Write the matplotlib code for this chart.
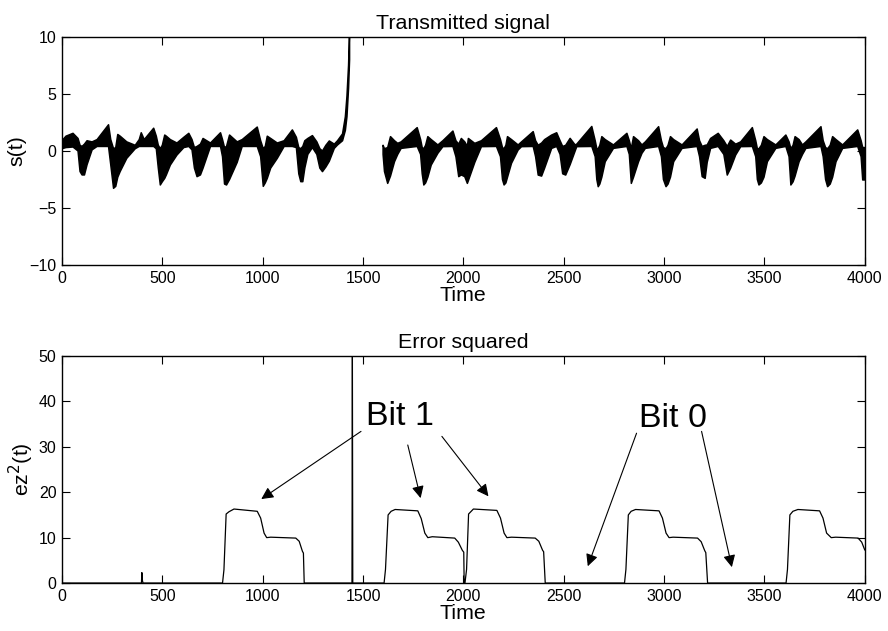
import numpy as np
import matplotlib
matplotlib.use("Agg")
import matplotlib.pyplot as plt

plt.rcParams['font.family'] = ['Liberation Sans', 'DejaVu Sans']

nan = np.nan

# transmitted signal: upper / lower envelope of the fast oscillation
sig_t = [0, 20, 55, 80, 90, 100, 112, 125, 150, 175, 232, 243, 257, 268, 278, 290, 323, 365,
         385, 395, 410, 457, 470, 480, 490, 500, 512, 520, 540, 573, 607, 632, 648, 660, 673,
         690, 703, 740, 790, 800, 810, 820, 835, 873, 898, 973, 990, 1003, 1013, 1023, 1040,
         1073, 1107, 1148, 1168, 1180, 1190, 1200, 1210, 1225, 1248, 1270, 1285, 1298, 1315,
         1332, 1357, 1373, 1398, 1412, 1420, 1428, 1433, 1436,
         1600, 1607, 1623, 1637, 1657, 1673, 1690, 1770, 1787, 1795, 1803, 1812, 1823, 1840,
         1873, 1898, 1948, 1963, 1977, 1990, 2007, 2020, 2025, 2057, 2090, 2165, 2185, 2195,
         2203, 2212, 2220, 2240, 2273, 2290, 2348, 2360, 2373, 2390, 2405, 2440, 2465, 2482,
         2495, 2510, 2532, 2557, 2565, 2640, 2657, 2665, 2672, 2680, 2690, 2707, 2748, 2815,
         2827, 2837, 2848, 2873, 2890, 2907, 2973, 2987, 2997, 3010, 3020, 3032, 3048, 3090,
         3165, 3177, 3190, 3205, 3215, 3232, 3270, 3298, 3315, 3332, 3357, 3382, 3440, 3457,
         3465, 3473, 3485, 3498, 3515, 3557, 3607, 3623, 3632, 3643, 3653, 3673, 3690, 3707,
         3782, 3793, 3805, 3815, 3828, 3840, 3857, 3890, 3965, 3982, 3990, 4000]
sig_hi = [0.9, 1.3, 1.55, 1.1, 0.5, 0.4, 0.6, 0.9, 0.8, 1.0, 2.3, 1.0, 0.2, 0.3, 1.45, 1.3, 0.8, 0.5,
          1.0, 1.6, 1.0, 2.0, 1.3, 0.5, 0.2, 0.5, 1.4, 1.3, 1.0, 0.7, 1.2, 1.55, 1.0, 0.3, 0.4,
          0.6, 1.1, 0.7, 1.6, 1.0, 0.3, 0.4, 1.4, 0.8, 1.0, 2.1, 0.9, 0.2, 0.4, 1.3, 1.1,
          0.7, 0.9, 1.85, 1.2, 0.3, 0.2, 0.4, 0.9, 1.1, 1.35, 0.8, 0.2, 0.0, 0.5,
          0.88, 0.6, 0.9, 1.5, 3.0, 4.8, 7.5, 10.5, nan,
          0.5, 0.2, 0.3, 1.26, 0.9, 0.67, 0.8, 2.05, 1.0, 0.3, 0.2, 0.5, 1.26, 1.0,
          0.53, 0.9, 1.75, 0.9, 0.6, 1.1, 0.8, 0.4, 1.1, 0.67, 0.9, 2.05, 1.0, 0.3,
          0.2, 0.5, 1.26, 1.0, 0.53, 0.8, 1.7, 0.9, 0.5, 0.7, 1.0, 1.4, 1.6, 0.9,
          0.4, 0.5, 1.11, 0.53, 0.6, 2.15, 0.9, 0.2, 0.2, 0.5, 1.26, 1.0, 0.53, 1.55,
          0.9, 0.2, 1.26, 0.9, 0.53, 0.8, 2.13, 0.9, 0.3, 0.2, 0.5, 1.26, 1.0, 0.53,
          1.93, 0.9, 0.4, 0.5, 0.53, 1.1, 1.55, 0.9, 0.4, 0.96, 0.6, 0.8, 2.05, 0.9,
          0.2, 0.2, 0.5, 1.26, 1.0, 0.53, 1.4, 0.8, 0.2, 0.5, 1.26, 1.0, 0.53, 0.8,
          2.13, 0.9, 0.3, 0.2, 0.5, 1.26, 1.0, 0.53, 1.85, 0.9, 0.3, 0.3]
sig_lo = [0.2, 0.3, 0.35, 0.0, -1.8, -2.1, -2.1, -1.2, 0.1, 0.4, 0.4, -1.2, -3.27, -3.1, -2.3, -1.8, -0.64, 0.2,
          0.4, 0.4, 0.4, 0.4, 0.2, -1.5, -2.98, -2.7, -2.4, -2.1, -1.23, -0.35, 0.3, 0.4, 0.1, -1.5, -2.25,
          -2.1, -1.5, 0.4, 0.4, -0.5, -2.9, -2.98, -2.5, -1.0, 0.4, 0.4, -0.5, -3.1, -2.8, -2.4, -1.5,
          -0.64, 0.4, 0.4, 0.3, -2.0, -2.69, -2.69, -1.5, -0.3, 0.3, -0.3, -1.5, -1.81, -1.4,
          -0.9, 0.23, 0.53, 0.9, 1.8, 3.0, 5.5, 8.0, nan,
          -0.3, -1.8, -2.84, -2.2, -0.94, -0.3, 0.23, 0.4, -0.3, -2.0, -2.98, -2.8, -2.3, -1.23,
          -0.2, 0.38, 0.4, -0.5, -2.25, -2.1, -2.25, -2.84, -2.6, -1.0, 0.38, 0.4, -0.5, -2.5,
          -2.98, -2.8, -2.3, -1.08, 0.09, 0.38, 0.4, -0.5, -2.11, -2.2, -1.5, 0.23, 0.4, -0.3,
          -2.0, -2.11, -1.2, 0.0, 0.38, 0.4, -0.5, -2.5, -3.13, -2.9, -2.3, -0.94, 0.23, 0.4,
          -0.3, -2.84, -2.3, -0.94, -0.2, 0.23, 0.4, -0.5, -2.5, -3.13, -2.9, -2.3, -0.94, 0.23,
          0.4, -0.5, -2.25, -2.4, -1.0, 0.23, 0.4, -0.3, -2.11, -1.5, -0.35, 0.38, 0.4, -0.5,
          -2.5, -2.98, -2.8, -2.3, -0.94, 0.23, 0.4, -0.5, -2.98, -2.7, -2.2, -0.94, -0.3, 0.23,
          0.4, -0.5, -2.5, -3.13, -2.9, -2.3, -0.94, 0.23, 0.4, -0.5, -2.54, -2.54]

# squared synchronisation error
err_t = [0, 396, 398, 401, 404, 800, 807, 818, 832, 857, 973, 990, 1007, 1020, 1040, 1165, 1182, 1198,
         1203, 1207, 1445, 1447, 1449, 1605, 1612, 1625, 1640, 1660, 1773, 1790, 1808, 1823, 1845,
         1957, 1975, 1995, 2002, 2004, 2008, 2016, 2026, 2050, 2167, 2185, 2203, 2217, 2240, 2358,
         2376, 2395, 2400, 2408, 2803, 2810, 2822, 2836, 2858, 2975, 2992, 3010, 3025, 3045, 3167,
         3185, 3203, 3208, 3217, 3608, 3615, 3627, 3642, 3667, 3775, 3792, 3810, 3833, 3855, 3967,
         3985, 4000]
err_v = [0, 0, 2.3, 0.5, 0, 0, 2.9, 15.2, 15.7, 16.3, 15.8, 14.3, 11.0, 10.0, 10.1, 9.9, 9.2, 7.0,
         6.6, 0, 0, 50, 0, 0, 3.0, 15.0, 15.8, 16.2, 15.9, 14.2, 11.0, 10.0, 10.2, 9.9, 9.0, 7.2,
         6.8, 0, 0, 3.0, 15.2, 16.3, 16.0, 14.3, 11.0, 10.0, 10.1, 9.9, 9.2, 7.2, 6.9, 0, 0, 3.0,
         15.0, 15.8, 16.2, 15.9, 14.3, 11.0, 10.0, 10.1, 9.9, 9.1, 7.1, 6.7, 0, 0, 3.0, 15.0, 15.8,
         16.2, 15.9, 14.3, 11.0, 10.0, 10.1, 9.9, 9.0, 7.3]

xticks = np.arange(0, 4001, 500)

fig = plt.figure(figsize=(8.88, 6.31), dpi=100)
ax1 = fig.add_axes([0.0698, 0.58, 0.904, 0.3614])
ax2 = fig.add_axes([0.0698, 0.076, 0.904, 0.3598])

# edge line keeps the smeared look of the dense carrier
ax1.fill_between(sig_t, sig_lo, sig_hi, facecolor='k', edgecolor='k', lw=1.1)
ax1.set_xlim(0, 4000)
ax1.set_ylim(-10, 10)
ax1.set_yticks([-10, -5, 0, 5, 10])
ax1.set_title('Transmitted signal', fontsize=15.4, pad=6)
ax1.set_ylabel('s(t)', fontsize=15.4, labelpad=2)
ax1.set_xlabel('Time', fontsize=15.4, labelpad=0)

ax2.plot(err_t, err_v, color='k', lw=0.9)
ax2.set_xlim(0, 4000)
ax2.set_ylim(0, 50)
ax2.set_yticks([0, 10, 20, 30, 40, 50])
ax2.set_title('Error squared', fontsize=15.4, pad=6)
ax2.set_ylabel('ez$^2$(t)', fontsize=15.4, labelpad=2)
ax2.set_xlabel('Time', fontsize=15.4, labelpad=0)

for ax in (ax1, ax2):
    ax.set_xticks(xticks)
    ax.tick_params(direction='in', length=6, width=0.8, top=True, right=True,
                   labelsize=11.5, pad=4)
    for sp in ax.spines.values():
        sp.set_linewidth(1.0)

arrow = dict(arrowstyle='-|>', color='k', lw=0.8, mutation_scale=18, shrinkA=0, shrinkB=0)
ax2.text(1515, 34.8, 'Bit 1', fontsize=24.5, ha='left', va='baseline')
ax2.annotate('', xy=(993, 18.5), xytext=(1490, 33.4), arrowprops=arrow)
ax2.annotate('', xy=(1787, 18.7), xytext=(1723, 30.4), arrowprops=arrow)
ax2.annotate('', xy=(2125, 19.1), xytext=(1893, 32.3), arrowprops=arrow)
ax2.text(2875, 34.4, 'Bit 0', fontsize=24.5, ha='left', va='baseline')
ax2.annotate('', xy=(2620, 3.7), xytext=(2863, 33.0), arrowprops=arrow)
ax2.annotate('', xy=(3338, 3.5), xytext=(3187, 33.4), arrowprops=arrow)

fig.savefig('out.png', dpi=100)
